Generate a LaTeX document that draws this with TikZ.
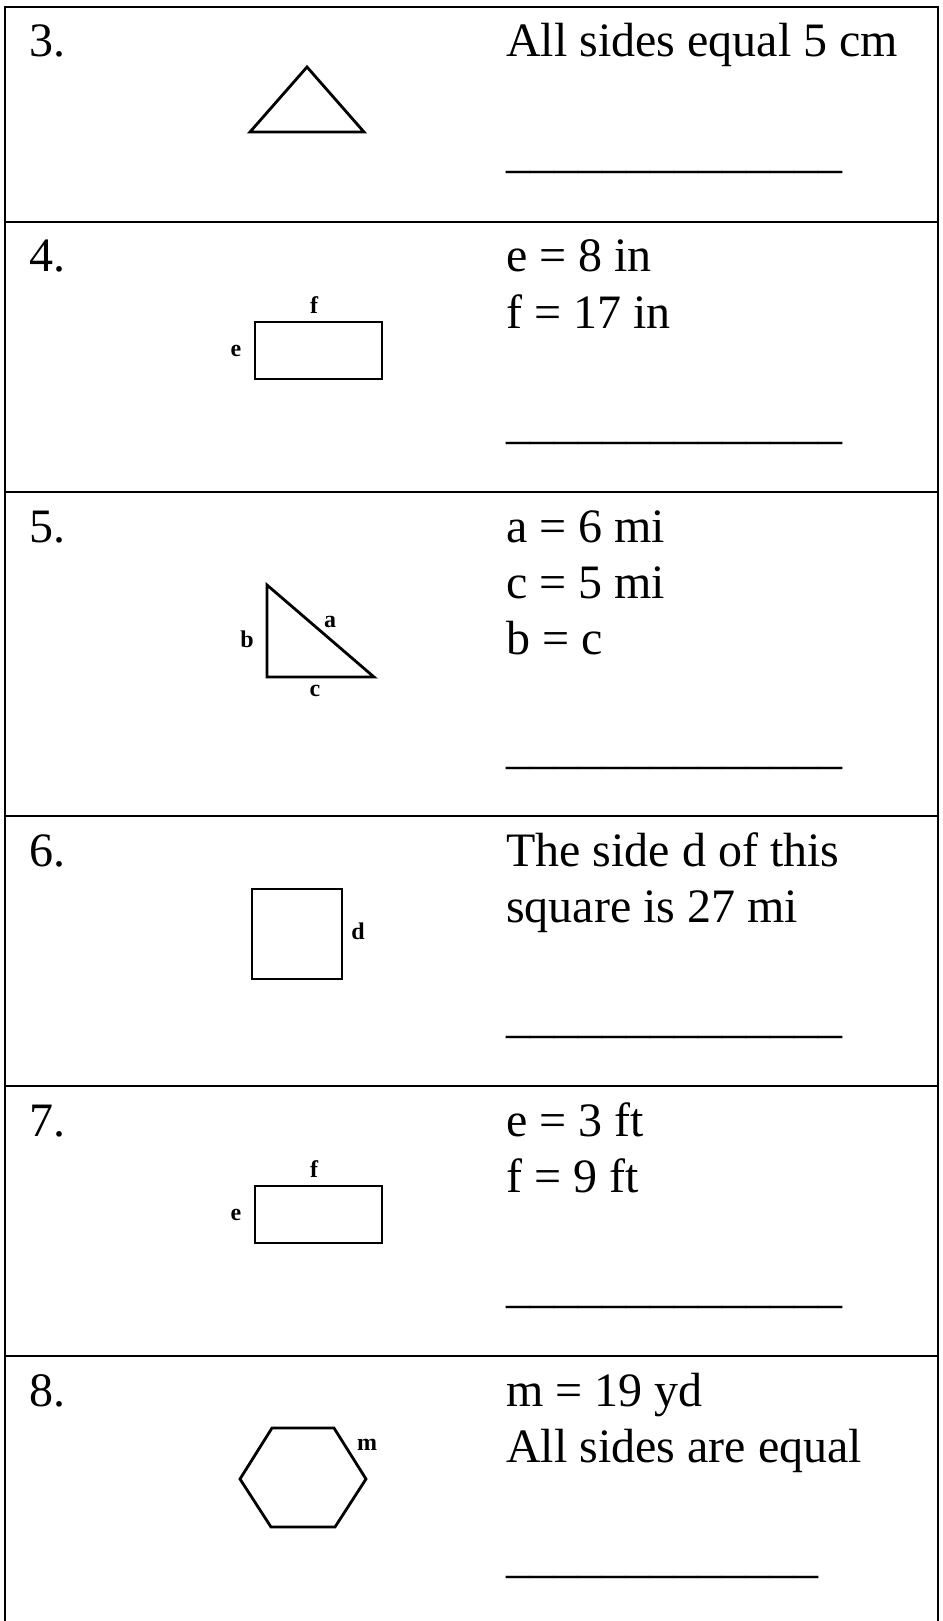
\documentclass[tikz,border=0pt]{standalone}
\usepackage{fontspec}
\setmainfont{Liberation Serif}
\newcommand\blankxiv{\_\_\_\_\_\_\_\_\_\_\_\_\_\_}
\newcommand\blankxiii{\_\_\_\_\_\_\_\_\_\_\_\_\_}
\begin{document}
\begin{tikzpicture}[x=1pt,y=-1pt,
  txt/.style={font=\fontsize{48}{56}\selectfont, inner sep=0pt, anchor=base west},
  lbl/.style={font=\fontsize{24}{26}\selectfont\bfseries, inner sep=0pt},
  fig/.style={line width=2.8pt, line join=miter},
  rule/.style={line width=2.6pt}]
\useasboundingbox (0,0) rectangle (942,1621);
% table
\draw[rule] (5,1621) -- (5,7) -- (938,7) -- (938,1621);
\foreach \yy in {222,492,816,1086,1356} \draw[rule] (5,\yy) -- (938,\yy);
% numbers
\node[txt] (n3) at (29,57) {3.};
\node[txt] (n4) at (29,272) {4.};
\node[txt] (n5) at (29,542) {5.};
\node[txt] (n6) at (29,866) {6.};
\node[txt] (n7) at (29,1136) {7.};
\node[txt] (n8) at (29,1406) {8.};
% right texts
\node[txt] (t3a) at (506,57) {All sides equal 5 cm};
\node[txt] (u3) at (506,168) {\blankxiv};
\node[txt] (t4a) at (506,272) {e = 8 in};
\node[txt] (t4b) at (506,328) {f = 17 in};
\node[txt] (u4) at (506,438) {\blankxiv};
\node[txt] (t5a) at (506,542) {a = 6 mi};
\node[txt] (t5b) at (506,598) {c = 5 mi};
\node[txt] (t5c) at (506,654) {b = c};
\node[txt] (u5) at (506,763) {\blankxiv};
\node[txt] (t6a) at (506,866) {The side d of this};
\node[txt] (t6b) at (506,922) {square is 27 mi};
\node[txt] (u6) at (506,1032) {\blankxiv};
\node[txt] (t7a) at (506,1136) {e = 3 ft};
\node[txt] (t7b) at (506,1192) {f = 9 ft};
\node[txt] (u7) at (506,1302) {\blankxiv};
\node[txt] (t8a) at (506,1406) {m = 19 yd};
\node[txt] (t8b) at (506,1462) {All sides are equal};
\node[txt] (u8) at (506,1572) {\blankxiii};
% row 3: equilateral triangle
\draw[fig] (307,67) -- (364,132) -- (250,132) -- cycle;
% row 4: rectangle
\draw[fig] (255,322) rectangle (382,379);
\node[lbl] (f4) at (314,305) {f};
\node[lbl] (e4) at (236,351) {e};
% row 5: right triangle
\draw[fig] (267,585) -- (374,677) -- (267,677) -- cycle;
\node[lbl] (b5) at (247,639) {b};
\node[lbl] (a5) at (330,622) {a};
\node[lbl] (c5) at (315,691) {c};
% row 6: square
\draw[fig] (252,889) rectangle (342,979);
\node[lbl] (d6) at (358,931) {d};
% row 7: rectangle
\draw[fig] (255,1186) rectangle (382,1243);
\node[lbl] (f7) at (314,1169) {f};
\node[lbl] (e7) at (236,1215) {e};
% row 8: hexagon
\draw[fig] (272,1428) -- (334,1428) -- (366,1479) -- (335,1527) -- (271,1527) -- (240,1479) -- cycle;
\node[lbl] (m8) at (367,1445) {m};
\end{tikzpicture}
\end{document}
